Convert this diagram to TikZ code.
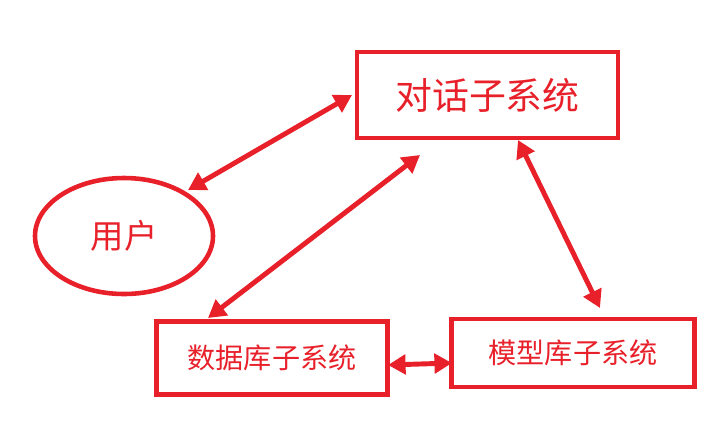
\documentclass[tikz,border=0pt]{standalone}
\usepackage{fontspec}
\newfontfamily\cjk{Noto Sans CJK SC}
\usetikzlibrary{arrows.meta,shapes.geometric}
\definecolor{sysred}{HTML}{E8202A}
\begin{document}
\begin{tikzpicture}[
    x=0.02cm, y=-0.02cm,
    sysbox/.style={draw=sysred, line width=2.6pt, text=sysred, font=\cjk\fontsize{16}{19}\selectfont, inner sep=0pt},
    dbl/.style={{Triangle[length=10pt,width=11pt]}-{Triangle[length=10pt,width=11pt]}, draw=sysred, fill=sysred, line width=2.8pt}
]
    \useasboundingbox (0,0) rectangle (709,427);
    % Subsystems
    \node[sysbox, minimum width=261*0.02cm, minimum height=86*0.02cm, font=\cjk\fontsize{21}{25}\selectfont] (dialog) at (487.5,95) {对话子系统};
    \node[sysbox, ellipse, minimum width=178*0.02cm, minimum height=116*0.02cm, font=\cjk\fontsize{19}{22}\selectfont] (user) at (124,236) {用户};
    \node[sysbox, minimum width=231*0.02cm, minimum height=73*0.02cm] (database) at (272,358) {数据库子系统};
    \node[sysbox, minimum width=243*0.02cm, minimum height=68*0.02cm] (model) at (573,353) {模型库子系统};

    % Arrow ends
    \coordinate (u1) at (188,190);
    \coordinate (d1) at (352,95);
    \coordinate (d2) at (420,155);
    \coordinate (b1) at (208,318);
    \coordinate (d3) at (518,140);
    \coordinate (m1) at (600,308);
    \coordinate (b2) at (388,365);
    \coordinate (m2) at (452,363);

    % Links
    \draw[dbl] (u1) -- (d1);
    \draw[dbl] (b1) -- (d2);
    \draw[dbl] (d3) -- (m1);
    \draw[dbl] (b2) -- (m2);
\end{tikzpicture}
\end{document}
